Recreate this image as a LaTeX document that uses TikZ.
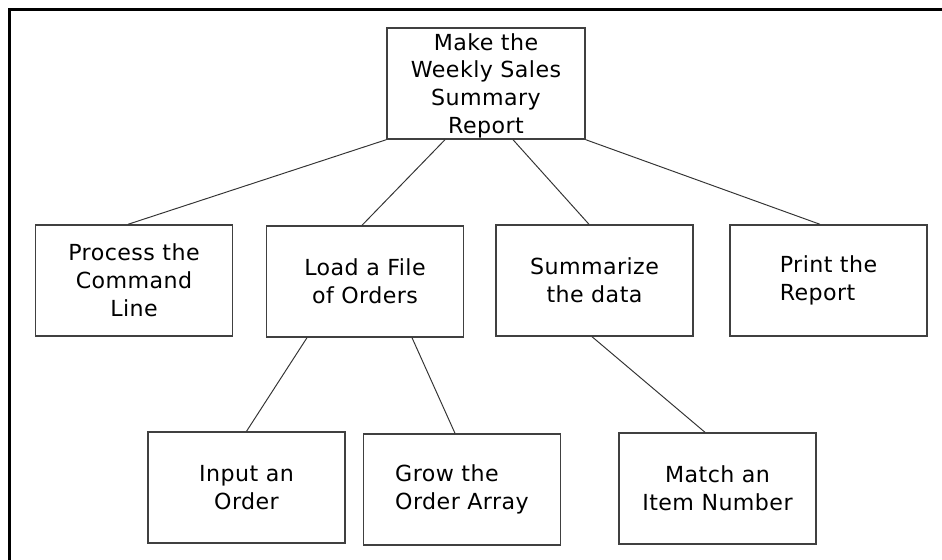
\documentclass[tikz,border=0pt]{standalone}
\usepackage{fontspec}
\usepackage{tikz}
\usetikzlibrary{calc}
\newfontfamily\boxfont[LetterSpace=2]{DejaVu Sans}

\begin{document}
\begin{tikzpicture}[x=0.02cm, y=-0.02cm,
    task/.style={draw=black!75, line width=0.8pt, rectangle, inner sep=0pt,
        minimum width=3.94cm, minimum height=2.22cm, align=center,
        font=\boxfont\fontsize{12.6}{15.9}\selectfont},
    link/.style={draw=black!80, line width=0.55pt}]
    \useasboundingbox (0,0) rectangle (942,560);

    % Outer frame
    \draw[line width=1.7pt] (9.5,560) -- (9.5,9.5) -- (942,9.5);

    % Place the boxes
    \node[task, minimum width=3.96cm, text depth=0pt] (report) at (486,83.5)
        {Make the\\Weekly Sales\\Summary\\Report};
    \node[task] (cmdline) at (134,280.5) {Process the\\Command\\Line};
    \node[task] (load) at (365,281.5) {Load a File\\of Orders};
    \node[task] (summ) at (594.5,280.5) {Summarize\\the data};
    \node[task, align=left] (print) at (828.5,280.5) {Print the\\Report};
    \node[task] (input) at (246.5,487.5) {Input an\\Order};
    \node[task, align=left] (grow) at (462,489.5) {Grow the\\Order Array};
    \node[task] (match) at (717.5,488.5) {Match an\\Item Number};

    % Connect them
    \draw[link] (report.south west) -- ([xshift=-0.12cm]cmdline.north);
    \draw[link] ([xshift=-0.82cm]report.south) -- ([xshift=-0.06cm]load.north);
    \draw[link] ([xshift=0.54cm]report.south) -- ([xshift=-0.11cm]summ.north);
    \draw[link] (report.south east) -- ([xshift=-0.17cm]print.north);
    \draw[link] ([xshift=-1.16cm]load.south) -- (input.north);
    \draw[link] ([xshift=0.94cm]load.south) -- ([xshift=-0.14cm]grow.north);
    \draw[link] ([xshift=-0.05cm]summ.south) -- ([xshift=-0.25cm]match.north);
\end{tikzpicture}
\end{document}
